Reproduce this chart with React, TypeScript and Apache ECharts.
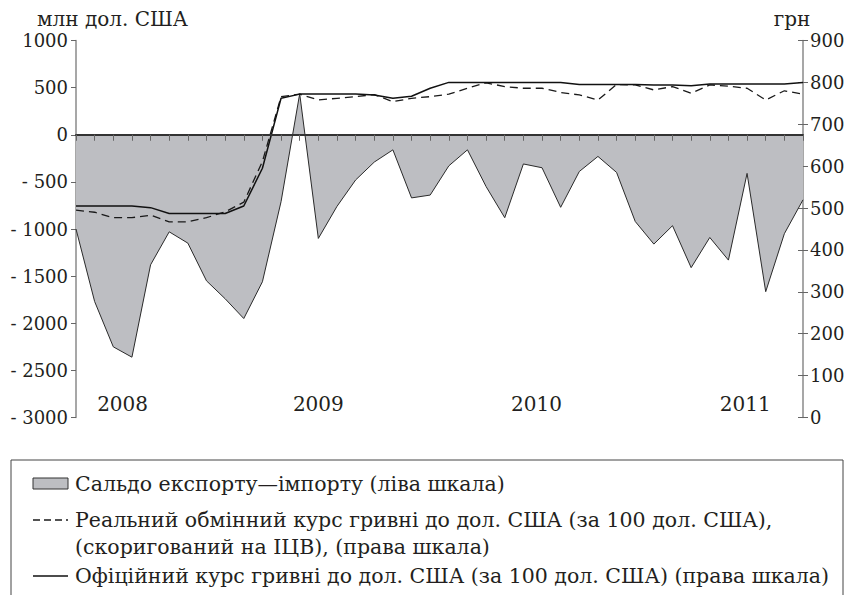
import React, { useEffect, useRef } from 'react';
import * as echarts from 'echarts';

// Monthly observations, Jan 2008 – Apr 2011
const months = [
  '01.2008', '02.2008', '03.2008', '04.2008', '05.2008', '06.2008', '07.2008', '08.2008', '09.2008', '10.2008', '11.2008', '12.2008',
  '01.2009', '02.2009', '03.2009', '04.2009', '05.2009', '06.2009', '07.2009', '08.2009', '09.2009', '10.2009', '11.2009', '12.2009',
  '01.2010', '02.2010', '03.2010', '04.2010', '05.2010', '06.2010', '07.2010', '08.2010', '09.2010', '10.2010', '11.2010', '12.2010',
  '01.2011', '02.2011', '03.2011', '04.2011',
];

// Trade balance, mln USD (left scale)
const tradeBalance = [
  -1000, -1770, -2250, -2360, -1380, -1030, -1150, -1550, -1740, -1950, -1560, -710,
  435, -1100, -760, -480, -290, -160, -670, -640, -330, -160, -550, -880,
  -310, -350, -770, -390, -230, -400, -920, -1160, -965, -1410, -1090, -1330,
  -410, -1665, -1050, -690,
];

// Real exchange rate, UAH per 100 USD (right scale)
const realRate = [
  495, 490, 477, 477, 483, 467, 467, 477, 491, 514, 611, 766,
  772, 758, 762, 766, 771, 754, 762, 766, 772, 786, 799, 790,
  786, 786, 776, 770, 758, 795, 794, 782, 790, 774, 794, 791,
  786, 758, 780, 772,
];

// Official exchange rate, UAH per 100 USD (right scale)
const officialRate = [
  505, 505, 505, 505, 501, 487, 487, 487, 487, 505, 595, 762,
  772, 772, 772, 772, 770, 762, 767, 786, 800, 800, 800, 800,
  800, 800, 800, 795, 795, 795, 795, 794, 794, 792, 796, 796,
  796, 796, 796, 800,
];

// Year captions and the month index they are centred on
const yearLabels = ['2008', '2009', '2010', '2011'];
const yearLabelAt = [2.5, 13, 24.7, 35.9];

const leftAxisName = 'млн дол. США';
const rightAxisName = 'грн';

const nameBalance = 'Сальдо експорту—імпорту (ліва шкала)';
const nameReal = 'Реальний обмінний курс гривні до дол. США (за 100 дол. США), (скоригований на ІЦВ), (права шкала)';
const nameOfficial = 'Офіційний курс гривні до дол. США (за 100 дол. США) (права шкала)';
const legendRows = [
  'Сальдо експорту—імпорту (ліва шкала)',
  'Реальний обмінний курс гривні до дол. США (за 100 дол. США),',
  '(скоригований на ІЦВ), (права шкала)',
  'Офіційний курс гривні до дол. США (за 100 дол. США) (права шкала)',
];

const SERIF = '"DejaVu Serif", serif';
const TEXT = '#231f20';
const AREA = '#bdbec2';

export default function App() {
  const ref = useRef<HTMLDivElement>(null);

  useEffect(() => {
    if (!ref.current) return;
    const chart = echarts.init(ref.current, undefined, { renderer: 'svg' });

    const legendFont = { fontFamily: SERIF, fontSize: 20.5, fill: TEXT };

    chart.setOption({
      animation: false,
      backgroundColor: '#ffffff',
      grid: { left: 76, right: 50, top: 40.5, bottom: 177.5 },
      xAxis: [
        {
          type: 'category',
          data: months,
          boundaryGap: false,
          position: 'bottom',
          z: 5,
          axisLine: { show: true, onZero: true, onZeroAxisIndex: 0, lineStyle: { color: '#333', width: 2 } },
          axisTick: { show: true, interval: 0, length: 6, lineStyle: { color: '#666', width: 1 } },
          axisLabel: { show: false },
          splitLine: { show: false },
        },
        {
          type: 'value',
          min: 0,
          max: months.length - 1,
          position: 'bottom',
          axisLine: { show: false, onZero: false },
          axisTick: { show: false },
          splitLine: { show: false },
          axisLabel: {
            show: true,
            inside: true,
            margin: 4,
            customValues: yearLabelAt,
            formatter: (v: number) => {
              const k = yearLabelAt.findIndex((p) => Math.abs(p - v) < 1e-6);
              return k >= 0 ? yearLabels[k] : '';
            },
            fontFamily: SERIF,
            fontSize: 20,
            color: TEXT,
          },
        },
      ],
      yAxis: [
        {
          type: 'value',
          position: 'left',
          min: -3000,
          max: 1000,
          interval: 500,
          name: leftAxisName,
          nameLocation: 'end',
          nameGap: 12,
          nameTextStyle: { fontFamily: SERIF, fontSize: 20, color: TEXT, align: 'left', padding: [0, 0, 0, -39] },
          axisLine: { show: true, lineStyle: { color: '#8a8a8a', width: 1.5 } },
          axisTick: { show: true, length: 5, lineStyle: { color: '#666' } },
          axisLabel: {
            margin: 8,
            fontFamily: SERIF,
            fontSize: 18,
            color: TEXT,
            formatter: (v: number) => (v < 0 ? '- ' + Math.abs(v) : String(v)),
          },
          splitLine: { show: false },
        },
        {
          type: 'value',
          position: 'right',
          min: 0,
          max: 900,
          interval: 100,
          name: rightAxisName,
          nameLocation: 'end',
          nameGap: 12,
          nameTextStyle: { fontFamily: SERIF, fontSize: 20, color: TEXT, align: 'center', padding: [0, 22, 0, 0] },
          axisLine: { show: true, lineStyle: { color: '#8a8a8a', width: 1.5 } },
          axisTick: { show: true, length: 5, lineStyle: { color: '#666' } },
          axisLabel: { margin: 7, fontFamily: SERIF, fontSize: 18, color: TEXT },
          splitLine: { show: false },
        },
        {
          type: 'value',
          position: 'right',
          min: 0,
          max: 900,
          interval: 100,
          axisLine: { show: false },
          axisTick: { show: true, inside: true, length: 5, lineStyle: { color: '#666' } },
          axisLabel: { show: false },
          splitLine: { show: false },
        },
      ],
      series: [
        {
          name: nameBalance,
          type: 'line',
          xAxisIndex: 0,
          yAxisIndex: 0,
          data: tradeBalance,
          symbol: 'none',
          z: 1,
          lineStyle: { color: '#2a2a2a', width: 1 },
          areaStyle: { color: AREA, opacity: 1, origin: 'auto' },
        },
        {
          name: nameReal,
          type: 'line',
          xAxisIndex: 0,
          yAxisIndex: 1,
          data: realRate,
          symbol: 'none',
          z: 3,
          lineStyle: { color: '#1a1a1a', width: 1.3, type: [8, 5] },
        },
        {
          name: nameOfficial,
          type: 'line',
          xAxisIndex: 0,
          yAxisIndex: 1,
          data: officialRate,
          symbol: 'none',
          z: 4,
          lineStyle: { color: '#111', width: 1.5 },
        },
      ],
      graphic: [
        {
          type: 'rect',
          shape: { x: 11, y: 460, width: 832, height: 200 },
          style: { fill: 'none', stroke: '#444', lineWidth: 1 },
        },
        {
          type: 'rect',
          shape: { x: 33, y: 478, width: 35, height: 11 },
          style: { fill: AREA, stroke: '#333', lineWidth: 1 },
        },
        { type: 'text', x: 75, y: 484, style: { ...legendFont, text: legendRows[0], verticalAlign: 'middle' } },
        {
          type: 'line',
          shape: { x1: 33, y1: 520, x2: 68, y2: 520 },
          style: { stroke: '#1a1a1a', lineWidth: 1.3, lineDash: [7, 4] },
        },
        { type: 'text', x: 75, y: 520, style: { ...legendFont, text: legendRows[1], verticalAlign: 'middle' } },
        { type: 'text', x: 75, y: 547, style: { ...legendFont, text: legendRows[2], verticalAlign: 'middle' } },
        {
          type: 'line',
          shape: { x1: 33, y1: 576, x2: 68, y2: 576 },
          style: { stroke: '#111', lineWidth: 1.5 },
        },
        { type: 'text', x: 75, y: 576, style: { ...legendFont, text: legendRows[3], verticalAlign: 'middle' } },
      ],
    });

    return () => chart.dispose();
  }, []);

  return <div ref={ref} style={{ position: 'absolute', left: 0, top: 0, width: 853, height: 595 }} />;
}
